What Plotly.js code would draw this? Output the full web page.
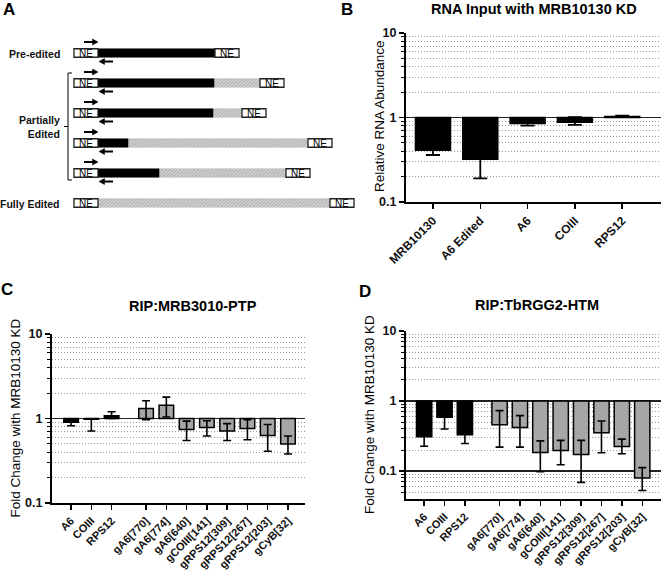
<!DOCTYPE html>
<html><head><meta charset="utf-8">
<script src="https://cdn.plot.ly/plotly-3.0.1.min.js"></script>
<style>html,body{margin:0;padding:0;background:#fff}</style>
</head><body><div id="chart" style="width:662px;height:574px"></div>
<script>
// ---------- Panel B data ----------
const bCategories = ['MRB10130', 'A6 Edited', 'A6', 'COIII', 'RPS12'];
const bValues    = [0.41, 0.32, 0.85, 0.88, 1.03];
const bErrPlus   = [0.05, 0.13, 0.05, 0.13, 0.02];
const bErrMinus  = [0.05, 0.13, 0.05, 0.06, 0.02];

// ---------- Panels C / D data ----------
const ripCategories = ['A6', 'COIII', 'RPS12', 'gA6[770]', 'gA6[774]', 'gA6[640]',
  'gCOIII[141]', 'gRPS12[309]', 'gRPS12[267]', 'gRPS12[203]', 'gCyB[32]'];
const nMrna = 3; // first three are mRNAs (black), rest gRNAs (grey)

const cValues   = [0.90, 0.98, 1.08, 1.31, 1.43, 0.74, 0.78, 0.71, 0.76, 0.63, 0.50];
const cErrPlus  = [0.08, 0.00, 0.12, 0.31, 0.36, 0.19, 0.16, 0.16, 0.21, 0.22, 0.12];
const cErrMinus = [0.08, 0.27, 0.08, 0.34, 0.39, 0.19, 0.16, 0.16, 0.20, 0.22, 0.12];

const dValues   = [0.31, 0.585, 0.33, 0.46, 0.42, 0.185, 0.197, 0.173, 0.353, 0.225, 0.080];
const dErrPlus  = [0.08, 0.18, 0.085, 0.27, 0.20, 0.085, 0.078, 0.102, 0.165, 0.061, 0.032];
const dErrMinus = [0.083, 0.185, 0.082, 0.24, 0.20, 0.087, 0.074, 0.104, 0.170, 0.048, 0.027];

// ---------- Panel A schematic data ----------
const schemRowLabels    = ['Pre-edited', '', '', '', '', 'Fully Edited'];
const schemGroupLabel   = 'Partially<br>Edited';
const schemPreEditedLen = [117, 116, 115, 30, 61, 0];
const schemEditedLen    = [0, 46, 29, 180, 127, 232];
const schemHasPrimers   = [1, 1, 1, 1, 1, 0];
const neLen = 24;

// ---------- helpers ----------
const W = 662, H = 574;
const px = v => v / W;
const py = v => 1 - v / H;
const FONT = 'Liberation Sans, Arial, sans-serif';
const BLACK = '#000000', GREY = '#a6a6a6';

const ripPos = ripCategories.map((c, i) => i + (i >= nMrna ? 0.7 : 0));
const ripColors = ripCategories.map((c, i) => i < nMrna ? BLACK : GREY);

function minorVals(lo, hi) {
  const out = [];
  for (let e = -3; e <= 2; e++) for (let d = 2; d <= 9; d++) {
    const v = d * Math.pow(10, e);
    if (v > lo * 1.0001 && v < hi * 0.9999) out.push(+v.toPrecision(3));
  }
  return out;
}

function yAxis(domain, range, lo, hi) {
  return {
    domain: domain, type: 'log', range: range,
    tickvals: [0.1, 1, 10], ticktext: ['0.1', '1', '10'],
    tickfont: {family: FONT, size: 12.5, color: '#111', weight: 'bold'},
    showgrid: true, gridcolor: '#222', gridwidth: 1.5,
    showline: true, linecolor: BLACK, linewidth: 2,
    ticks: 'outside', ticklen: 5, tickwidth: 1.5, tickcolor: BLACK,
    zeroline: false, fixedrange: true,
    minor: {tickvals: minorVals(lo, hi), showgrid: true, gridcolor: '#9a9a9a',
            griddash: '1px,2px', gridwidth: 1, ticks: 'outside', ticklen: 3,
            tickcolor: BLACK, tickwidth: 1}
  };
}
function xAxisNum(domain, range, fs) {
  return {
    domain: domain, range: range, tickmode: 'array', tickvals: ripPos, ticktext: ripCategories,
    tickangle: -45, tickfont: {family: FONT, size: fs, color: '#111', weight: 'bold'},
    showgrid: false, zeroline: false, showline: true, linecolor: BLACK, linewidth: 2,
    ticks: 'outside', ticklen: 5, tickwidth: 1.5, tickcolor: BLACK, fixedrange: true
  };
}

const traces = [];

// Panel B bars
traces.push({
  type: 'bar', x: bCategories, y: bValues.map(v => v - 1), base: 1,
  width: 0.74, xaxis: 'x', yaxis: 'y',
  marker: {color: BLACK, line: {color: BLACK, width: 1.5}}, hoverinfo: 'skip'
});
traces.push({
  type: 'scatter', mode: 'markers', x: bCategories, y: bValues, xaxis: 'x', yaxis: 'y',
  marker: {size: 1, opacity: 0}, hoverinfo: 'skip',
  error_y: {type: 'data', symmetric: false, array: bErrPlus, arrayminus: bErrMinus,
            color: BLACK, thickness: 1.8, width: 7}
});

// Panel C
traces.push({
  type: 'bar', x: ripPos, y: cValues.map(v => v - 1), base: 1,
  width: 0.72, xaxis: 'x2', yaxis: 'y2',
  marker: {color: ripColors, line: {color: BLACK, width: 1.5}}, hoverinfo: 'skip'
});
traces.push({
  type: 'scatter', mode: 'markers', x: ripPos, y: cValues, xaxis: 'x2', yaxis: 'y2',
  marker: {size: 1, opacity: 0}, hoverinfo: 'skip',
  error_y: {type: 'data', symmetric: false, array: cErrPlus, arrayminus: cErrMinus,
            color: BLACK, thickness: 1.6, width: 4}
});

// Panel D
traces.push({
  type: 'bar', x: ripPos, y: dValues.map(v => v - 1), base: 1,
  width: 0.75, xaxis: 'x3', yaxis: 'y3',
  marker: {color: ripColors, line: {color: BLACK, width: 1.5}}, hoverinfo: 'skip'
});
traces.push({
  type: 'scatter', mode: 'markers', x: ripPos, y: dValues, xaxis: 'x3', yaxis: 'y3',
  marker: {size: 1, opacity: 0}, hoverinfo: 'skip',
  error_y: {type: 'data', symmetric: false, array: dErrPlus, arrayminus: dErrMinus,
            color: BLACK, thickness: 1.6, width: 4}
});

// Panel A schematic (horizontal bars on a hidden pixel-scaled axis)
const rowY = schemRowLabels.map((l, i) => 53 + 30 * i);
const x0 = 74;
const nz = a => a.map(v => v > 0 ? v : null);
const preStart = rowY.map(() => x0 + neLen);
const edStart = schemPreEditedLen.map(v => x0 + neLen + v);
const ne2Start = schemPreEditedLen.map((v, i) => x0 + neLen + v + schemEditedLen[i]);
const schemCommon = {type: 'bar', orientation: 'h', y: rowY, width: 8.5,
                     xaxis: 'x4', yaxis: 'y4', hoverinfo: 'skip'};
traces.push(Object.assign({}, schemCommon, {x: nz(schemEditedLen), base: edStart,
  marker: {color: '#d0d0d0', line: {color: '#b0b0b0', width: 0.5},
           pattern: {shape: '/', fgcolor: '#ababab', bgcolor: '#dadada', size: 2.5, solidity: 0.45}}}));
traces.push(Object.assign({}, schemCommon, {x: nz(schemPreEditedLen), base: preStart,
  marker: {color: BLACK, line: {color: BLACK, width: 0.5}}}));
traces.push(Object.assign({}, schemCommon, {x: rowY.map(() => neLen), base: x0,
  marker: {color: '#ffffff', line: {color: '#222', width: 1.3}}}));
traces.push(Object.assign({}, schemCommon, {x: rowY.map(() => neLen), base: ne2Start,
  marker: {color: '#ffffff', line: {color: '#222', width: 1.3}}}));

const annotations = [];
const shapes = [];

function arrow(xTail, xHead, y) {
  const dir = xHead > xTail ? 1 : -1;
  shapes.push({type: 'line', xref: 'x4', yref: 'y4', x0: xTail, x1: xHead - dir * 4, y0: y, y1: y,
    line: {color: BLACK, width: 2}});
  shapes.push({type: 'path', xref: 'x4', yref: 'y4',
    path: `M${xHead},${y} L${xHead - dir * 5.5},${y - 3} L${xHead - dir * 5.5},${y + 3} Z`,
    fillcolor: BLACK, line: {color: BLACK, width: 0.5}});
}

rowY.forEach((y, i) => {
  [x0 + neLen / 2, ne2Start[i] + neLen / 2].forEach(cx => annotations.push({
    xref: 'x4', yref: 'y4', x: cx, y: y + 0.5, text: 'NE', showarrow: false,
    font: {family: FONT, size: 10, color: BLACK}, xanchor: 'center', yanchor: 'middle'
  }));
  if (schemHasPrimers[i]) {
    arrow(84, 98, y - 11);
    arrow(113, 99, y + 8.5);
  }
  if (schemRowLabels[i]) annotations.push({xref: 'x4', yref: 'y4', x: 62, y: y + 1,
    text: schemRowLabels[i], showarrow: false, xanchor: 'right', yanchor: 'middle',
    font: {family: FONT, size: 10.5, color: '#111', weight: 'bold'}});
});
const brTop = rowY[1] - 10, brBot = rowY[4] + 7, brMid = (brTop + brBot) / 2;
shapes.push({type: 'path', xref: 'x4', yref: 'y4',
  path: `M72,${brTop} L68,${brTop} L68,${brBot} L72,${brBot} M64,${brMid} L68,${brMid}`,
  line: {color: BLACK, width: 1}});
annotations.push({xref: 'x4', yref: 'y4', x: 62, y: brMid, text: schemGroupLabel,
  showarrow: false, xanchor: 'right', yanchor: 'middle', align: 'right',
  font: {family: FONT, size: 10.5, color: '#111', weight: 'bold'}});

// Panel letters, titles, y titles
const txt = (x, y, text, size, bold, extra) => annotations.push(Object.assign({
  xref: 'paper', yref: 'paper', x: px(x), y: py(y), text: text, showarrow: false,
  xanchor: 'center', yanchor: 'middle',
  font: {family: FONT, size: size, color: '#000', weight: bold ? 'bold' : 'normal'}
}, extra || {}));
txt(9, 10, 'A', 17, true);
txt(347, 10, 'B', 17, true);
txt(7, 289, 'C', 17, true);
txt(365, 291, 'D', 17, true);
txt(534, 9, 'RNA Input with MRB10130 KD', 14.5, true);
txt(193, 306, 'RIP:MRB3010-PTP', 14.5, true);
txt(537, 305, 'RIP:TbRGG2-HTM', 14.5, true);
txt(379, 116, 'Relative RNA Abundance', 13.5, false, {textangle: -90});
txt(14.5, 418, 'Fold Change with MRB10130 KD', 13.5, false, {textangle: -90});
txt(369, 415, 'Fold Change with MRB10130 KD', 13.5, false, {textangle: -90});

const layout = {
  width: W, height: H, autosize: false,
  margin: {l: 0, r: 0, t: 0, b: 0, pad: 0},
  paper_bgcolor: '#ffffff', plot_bgcolor: 'rgba(0,0,0,0)',
  showlegend: false, barmode: 'overlay',
  font: {family: FONT, color: '#000'},
  xaxis: {domain: [px(406), px(661)], anchor: 'y', type: 'category', range: [-0.57, 4.82],
    tickangle: -45, tickfont: {family: FONT, size: 12, color: '#111', weight: 'bold'},
    showgrid: false, zeroline: false, showline: true, linecolor: BLACK, linewidth: 2,
    ticks: 'outside', ticklen: 5, tickwidth: 1.5, tickcolor: BLACK, fixedrange: true},
  yaxis: Object.assign(yAxis([py(202), py(33)], [-1, 1], 0.1, 10), {anchor: 'x'}),
  xaxis2: Object.assign(xAxisNum([px(52), px(305)], [-0.94, 11.54], 11), {anchor: 'y2'}),
  yaxis2: Object.assign(yAxis([py(503), py(334)], [-1, 1], 0.1, 10), {anchor: 'x2'}),
  xaxis3: Object.assign(xAxisNum([px(406), px(661)], [-0.89, 11.62], 11), {anchor: 'y3'}),
  yaxis3: Object.assign(yAxis([py(499), py(331)], [Math.log10(0.04), 1], 0.04, 10), {anchor: 'x3'}),
  xaxis4: {domain: [0, 1], range: [0, W], visible: false, anchor: 'y4', fixedrange: true},
  yaxis4: {domain: [0, 1], range: [H, 0], visible: false, anchor: 'x4', fixedrange: true},
  annotations: annotations, shapes: shapes
};

Plotly.newPlot('chart', traces, layout, {staticPlot: true, displayModeBar: false});
</script>
</body></html>
